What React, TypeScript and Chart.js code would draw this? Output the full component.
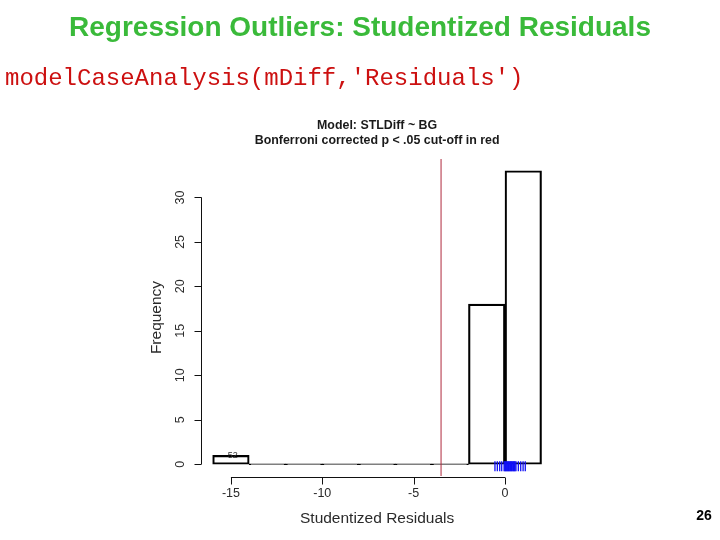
import React, { useEffect, useRef } from "react";
import { Chart, registerables } from "chart.js";

Chart.register(...registerables);

// ---- data ----
const binCenters = [-15, -13, -11, -9, -7, -5, -3, -1, 1];
const binCounts = [1, 0, 0, 0, 0, 0, 0, 18, 33];
const cutoff = -3.5;
const rugValues = [-0.55, -0.42, -0.29, -0.18, -0.05, -0.01, 0.03, 0.07, 0.11, 0.15, 0.19, 0.23, 0.27, 0.31, 0.35, 0.39, 0.43, 0.47, 0.51, 0.55, 0.6, 0.73, 0.86, 0.99, 1.11];
const rugY = -0.22;
const outlierX = -14.9;
const outlierY = 1.0;
const outlierLabel = "52";
const xTicks = [-15, -10, -5, 0];
const yTicks = [0, 5, 10, 15, 20, 25, 30];
const xMin = -16.72;
const xMax = 2.72;
const yMin = -1.32;
const yMax = 34.32;

const pageTitle = "Regression Outliers: Studentized Residuals";
const codeLine = "modelCaseAnalysis(mDiff,'Residuals')";
const plotTitle1 = "Model: STLDiff ~ BG";
const plotTitle2 = "Bonferroni corrected p < .05 cut-off in red";
const xTitle = "Studentized Residuals";
const yTitle = "Frequency";
const pageNumber = "26";

const SANS = '"Liberation Sans", Arial, sans-serif';
const MONO = '"Liberation Mono", "Courier New", monospace';

const decorPlugin = {
  id: "decor",
  afterDraw(chart: any) {
    const ctx = chart.ctx;
    const area = chart.chartArea;
    const xs = chart.scales.x;
    const ys = chart.scales.y;
    const cx = (area.left + area.right) / 2;
    const cy = (area.top + area.bottom) / 2;
    ctx.save();

    // page title
    ctx.fillStyle = "rgb(58,186,58)";
    ctx.font = `bold 28px ${SANS}`;
    ctx.textAlign = "center";
    ctx.textBaseline = "middle";
    ctx.fillText(pageTitle, 360, 28);

    // code line
    ctx.fillStyle = "rgb(204,16,16)";
    ctx.font = `24px ${MONO}`;
    ctx.textAlign = "left";
    ctx.fillText(codeLine, 5, 79);

    // plot titles
    ctx.fillStyle = "#1a1a1a";
    ctx.font = `bold 12.4px ${SANS}`;
    ctx.textAlign = "center";
    ctx.fillText(plotTitle1, cx, 126);
    ctx.fillText(plotTitle2, cx, 141);

    // y axis
    ctx.strokeStyle = "#111";
    ctx.lineWidth = 1;
    const axX = Math.round(area.left) + 1.5;
    const y0 = ys.getPixelForValue(yTicks[0]);
    const y1 = ys.getPixelForValue(yTicks[yTicks.length - 1]);
    ctx.beginPath();
    ctx.moveTo(axX, y0);
    ctx.lineTo(axX, y1);
    for (const t of yTicks) {
      const py = Math.round(ys.getPixelForValue(t)) + 0.5;
      ctx.moveTo(axX, py);
      ctx.lineTo(axX - 7, py);
    }
    ctx.stroke();
    ctx.fillStyle = "#2a2a2a";
    ctx.font = `12.5px ${SANS}`;
    for (const t of yTicks) {
      const py = ys.getPixelForValue(t);
      ctx.save();
      ctx.translate(181, py);
      ctx.rotate(-Math.PI / 2);
      ctx.textAlign = "center";
      ctx.textBaseline = "middle";
      ctx.fillText(String(t), 0, 0);
      ctx.restore();
    }

    // x axis
    const axY = Math.round(area.bottom) + 1.5;
    const x0 = xs.getPixelForValue(xTicks[0]);
    const x1 = xs.getPixelForValue(xTicks[xTicks.length - 1]);
    ctx.beginPath();
    ctx.moveTo(x0, axY);
    ctx.lineTo(x1, axY);
    for (const t of xTicks) {
      const px = Math.round(xs.getPixelForValue(t)) + 0.5;
      ctx.moveTo(px, axY);
      ctx.lineTo(px, axY + 7);
    }
    ctx.stroke();
    ctx.textAlign = "center";
    ctx.textBaseline = "middle";
    for (const t of xTicks) {
      ctx.fillText(String(t), xs.getPixelForValue(t), 494);
    }

    // axis titles
    ctx.font = `15.5px ${SANS}`;
    ctx.fillText(xTitle, cx, 519);
    ctx.save();
    ctx.translate(157, cy);
    ctx.rotate(-Math.PI / 2);
    ctx.fillText(yTitle, 0, 0);
    ctx.restore();

    // outlier label
    ctx.font = `9px ${SANS}`;
    ctx.fillStyle = "#333";
    ctx.fillText(outlierLabel, xs.getPixelForValue(outlierX), ys.getPixelForValue(outlierY));

    // page number
    ctx.fillStyle = "#000";
    ctx.font = `bold 14px ${SANS}`;
    ctx.fillText(pageNumber, 704, 516);

    ctx.restore();
  },
};

export default function App() {
  const ref = useRef<HTMLCanvasElement | null>(null);
  useEffect(() => {
    if (!ref.current) return;
    const chart = new Chart(ref.current, {
      data: {
        datasets: [
          {
            type: "bar",
            data: binCenters.map((c, i) => ({ x: c, y: binCounts[i] })),
            backgroundColor: "rgba(0,0,0,0)",
            borderColor: "#000",
            borderWidth: 1.5,
            borderSkipped: false,
            minBarLength: 1,
            barPercentage: 1,
            categoryPercentage: 1,
            order: 3,
          } as any,
          {
            type: "line",
            data: [
              { x: cutoff, y: yMin },
              { x: cutoff, y: yMax },
            ],
            borderColor: "#b0283c",
            borderWidth: 1,
            pointRadius: 0,
            order: 2,
          } as any,
          {
            type: "scatter",
            data: rugValues.map((v) => ({ x: v, y: rugY })),
            pointStyle: "line",
            rotation: 90,
            radius: 5,
            borderColor: "#1010f5",
            borderWidth: 1.3,
            order: 1,
          } as any,
        ],
      },
      options: {
        animation: false,
        responsive: false,
        events: [],
        layout: { padding: { left: 199.5, right: 165.3, top: 159, bottom: 64 } },
        plugins: { legend: { display: false }, title: { display: false }, tooltip: { enabled: false } },
        scales: {
          x: {
            type: "linear",
            min: xMin,
            max: xMax,
            offset: false,
            display: false,
            afterBuildTicks: (s: any) => {
              s.ticks = [{ value: xMin }, { value: xMax }];
            },
          },
          y: {
            type: "linear",
            min: yMin,
            max: yMax,
            display: false,
          },
        },
      },
      plugins: [decorPlugin],
    } as any);
    return () => chart.destroy();
  }, []);
  return (
    <div style={{ position: "absolute", left: 0, top: 0, width: 720, height: 540, background: "#fff" }}>
      <canvas ref={ref} width={720} height={540} style={{ width: 720, height: 540 }} />
    </div>
  );
}
